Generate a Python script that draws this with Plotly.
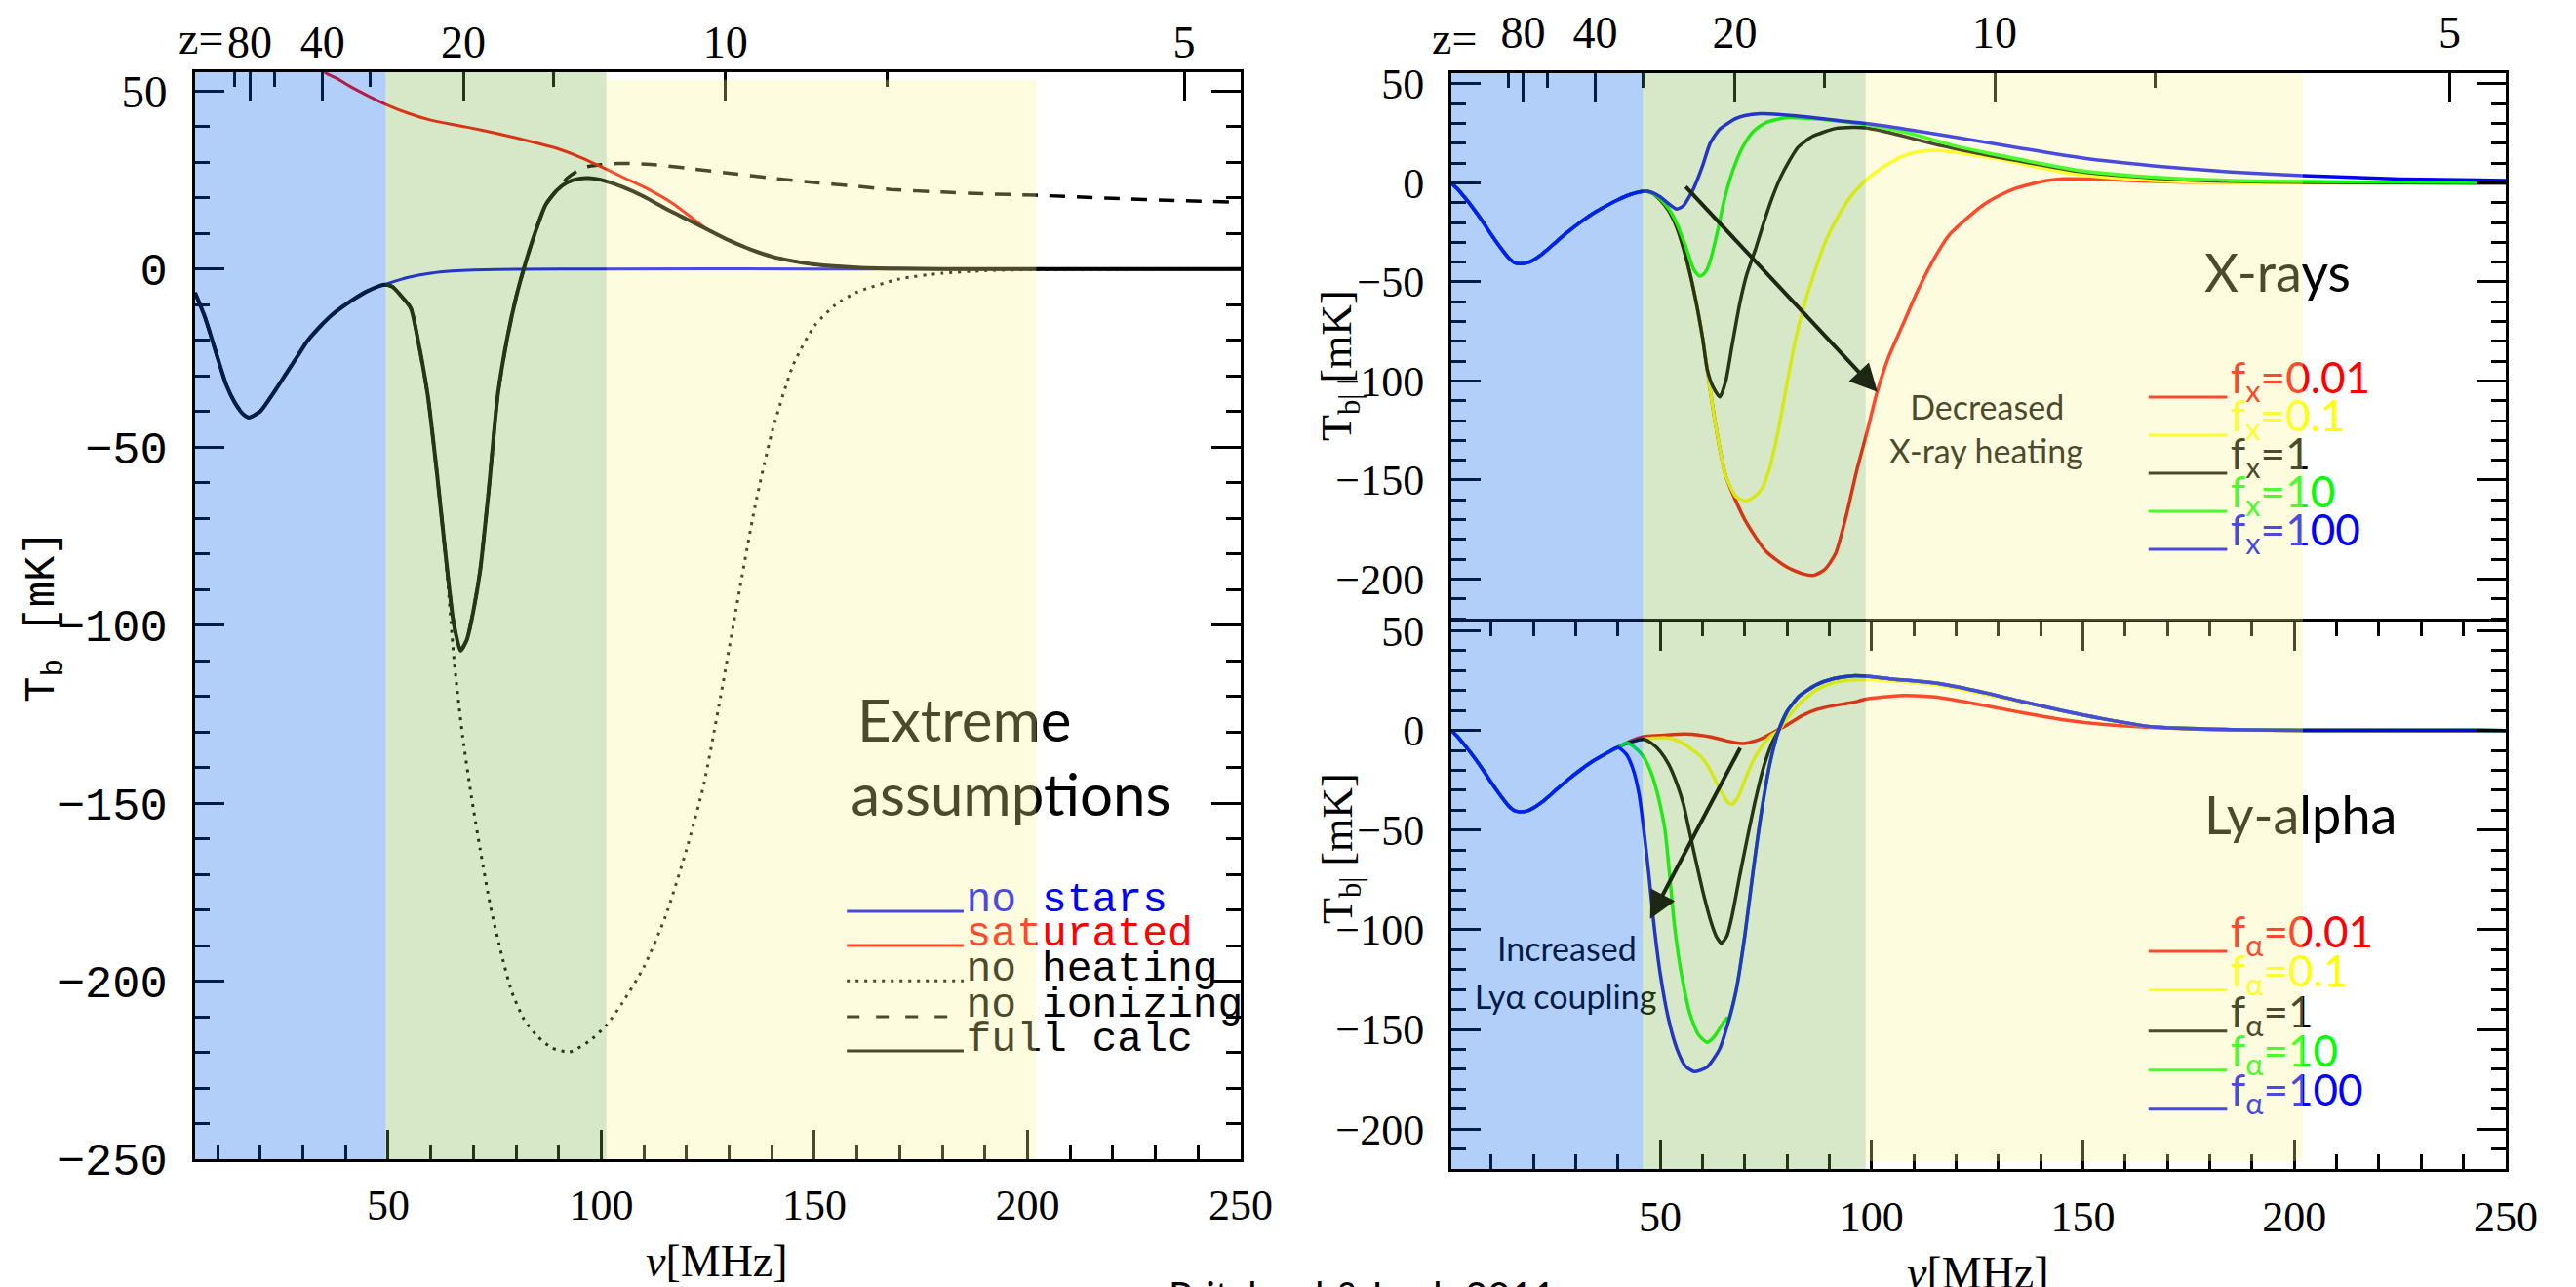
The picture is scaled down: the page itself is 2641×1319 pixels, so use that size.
import plotly.graph_objects as go

# ======================= DATA =======================
# ---- Left panel: "Extreme assumptions" (nu [MHz], T_b [mK]) ----
nu_L_common = [4.7, 7, 10, 12, 14, 16, 17.3, 20, 23, 26, 29, 31, 34, 37, 41, 45, 49.1]
T_L_common = [-6.7, -13.5, -25, -32.5, -37.5, -40.8, -41.7, -40, -35, -29.5, -24, -20.3, -16.2, -12.7, -9.2, -6.3, -4.4]

nu_nostars_tail = [52, 55, 60, 65, 70, 80, 100, 150, 200, 250]
T_nostars_tail = [-3.3, -2.3, -1.2, -0.6, -0.3, -0.1, 0, 0, 0, 0]

nu_full_tail = [51, 53, 55.3, 57, 59.3, 61.5, 63.4, 65.3, 67, 68.5, 70, 71.6, 73.6, 75.7, 78, 80, 81.8, 84,
                86.9, 89.5, 92, 95, 97.1, 100, 105, 110, 115, 120, 125, 130, 135, 140, 145, 150, 160, 170, 180, 200, 250]
T_full_tail = [-5, -7.5, -11, -20, -35.6, -58, -79.5, -99, -107.2, -104, -96, -84.5, -62, -35.6, -19, -8, 0, 8.5,
               17.9, 22, 24.3, 25.4, 25.5, 25, 23, 20.3, 17, 14, 11, 8, 5.5, 3.5, 2.2, 1.3, 0.4, 0.1, 0, 0, 0]

nu_noheat_tail = [65.5, 67.5, 69.5, 71.6, 74, 76.7, 79, 81.8, 85, 88.5, 92.5, 97, 101.2, 105, 110, 115, 120, 124,
                  128, 132, 136, 140, 145, 150, 155, 160, 170, 180, 190, 200, 250]
T_noheat_tail = [-110.4, -131.5, -148, -163.1, -179, -193, -203, -210.6, -215.5, -218.8, -219.9, -217, -212.4, -206,
                 -196, -182, -163, -145, -120, -93, -67, -46, -27, -16, -10, -6.5, -2.8, -1.2, -0.5, -0.2, 0]

nu_noion_tail = [92, 95, 97, 100, 104, 108, 115, 122, 130, 140, 150, 160, 168, 180, 190, 202, 220, 235, 250]
T_noion_tail = [25.5, 28, 28.8, 29.3, 29.6, 29.6, 29, 28, 26.9, 25.5, 24.3, 23.2, 22.3, 21.6, 21.1, 20.7, 19.8, 19.2, 18.7]

nu_sat = [34.5, 35.4, 38, 41, 45, 49.5, 55, 60, 65, 68.6, 75, 80, 85, 89.7, 95, 100.7, 105, 111, 117, 122.4,
          125, 130, 135, 140, 145, 150, 160, 170, 180, 200, 250]
T_sat = [56, 55, 53.5, 51.3, 48.8, 46.2, 43.6, 41.8, 40.6, 39.8, 38.2, 36.8, 35.3, 33.8, 31.4, 28.3, 25.8, 22.4, 18.2, 13.3,
         11, 8, 5.5, 3.5, 2.2, 1.3, 0.4, 0.1, 0, 0, 0]

# ---- Right panels: shared early part ----
nu_R_common = [0.6, 2, 4, 6, 8, 10, 12, 14, 15.5, 17, 19, 22, 25, 28, 31, 34, 37, 40]
T_R_common = [0, -3, -8, -13.5, -19.5, -26, -32, -37.5, -40.2, -40.8, -40, -36, -30.5, -25, -20, -15.5, -11.8, -8.5]

# ---- Top-right: X-ray heating efficiency f_X ----
nu_X_pre = [43, 46.5]
T_X_pre = [-5.8, -4.2]
nu_X_desc = [48, 50, 52, 54, 56, 58, 60, 61.1]
T_X_desc = [-5, -8.5, -14, -23, -37, -55, -78, -94]

nu_fx100 = [48, 50, 52, 53.9, 55.5, 57, 57.9, 60, 61.8, 64, 67.8, 70, 73.7, 78, 85, 92, 98.6, 110, 120, 135, 150,
            166.6, 185, 202, 225, 250]
T_fx100 = [-4.8, -7, -10.5, -13.2, -11.5, -6.5, -2.9, 8.5, 20, 27, 32.4, 34, 34.9, 34.6, 33.2, 31.5, 30, 26.5, 23, 17.6,
           12.5, 8.6, 5.5, 3.7, 2, 1.2]

nu_fx10 = [48, 50, 52, 54, 56, 58, 59.3, 60.3, 61.1, 62, 63, 64, 65, 66.5, 68, 69.6, 72, 75, 79.6, 85, 92, 98.6,
           110, 120, 135, 150, 166.6, 185, 202, 225, 250]
T_fx10 = [-5, -8, -13, -21, -32, -44, -47, -46, -43.5, -38, -29.5, -20, -10, 2, 11, 18.5, 26, 30.5, 32.9, 32.6, 31.3,
          29.5, 24.5, 18.5, 11.9, 6, 2.9, 1.2, 0.7, 0.3, 0.2]

nu_fx1_tail = [62.5, 64.1, 65.5, 67, 68.8, 70.5, 72.6, 74.5, 76.4, 78.5, 80.5, 82.6, 86, 91.5, 95.5, 98.6, 105, 115,
               125, 135, 150, 166.6, 185, 202, 225, 250]
T_fx1_tail = [-103, -108, -100, -82, -61, -46, -33, -20, -8, 3, 11, 18, 23.5, 27.5, 28, 27.8, 25, 19.5, 15, 11, 5.5,
              2.5, 0.8, 0.3, 0.1, 0]

nu_fx01_tail = [63, 65.5, 68, 70.3, 72.5, 74.1, 76, 78, 80, 81.9, 84, 86.5, 89, 91.9, 95, 98.1, 102, 107.3, 111,
                115, 120, 125, 130.4, 138, 145.8, 153, 161, 168, 176.6, 190, 250]
T_fx01_tail = [-121, -148, -158.5, -160.6, -158, -154, -143, -124, -101, -80, -62, -45, -30, -17.6, -7, 0.4, 7, 13.5,
               15.7, 16.5, 15.5, 13.8, 11.9, 8.5, 5.3, 3.3, 2, 1.1, 0.4, 0.1, 0]

nu_fx001_tail = [63, 65.5, 70, 75, 80, 84, 86.5, 89, 91.5, 94, 96.5, 99, 101.2, 104, 107.3, 111, 115, 118.5, 122.7,
                 126.5, 130.4, 134, 138.1, 142, 145.8, 153, 161, 168, 176.6, 190, 250]
T_fx001_tail = [-121, -148, -170, -186, -194, -197.5, -198, -195, -187, -168, -145, -125, -106.3, -88, -72, -54,
                -37.4, -26, -17.6, -11, -6.2, -2.8, -0.4, 1.3, 2.1, 1.9, 1.2, 0.7, 0.4, 0.1, 0]

# ---- Bottom-right: Ly-alpha efficiency f_alpha ----
nu_fa100_tail = [42, 43.5, 45, 46.1, 47.3, 48.4, 50, 51.9, 54, 56, 58, 61, 64, 66, 68, 70, 72, 74, 76, 78, 80, 83,
                 87, 91, 95.5, 100, 105, 115.1, 125, 134.9, 145, 154.7, 166.6, 185, 202, 250]
T_fa100_tail = [-12, -19, -32, -49.6, -72, -95.2, -122, -144.2, -160, -168.5, -171.1, -169, -160, -147, -130, -103,
                -70, -40, -16, 0, 9.5, 17.5, 23, 26, 27.4, 27, 25.8, 23.8, 19.8, 14.9, 10, 5.9, 1.8, 0.5, 0.1, 0]

nu_fa10_head = [42.1, 44, 46, 48, 49.5, 51.1, 52.2, 53.4, 55, 57, 59, 61.1, 63, 65.7]
T_fa10_head = [-6.3, -8.5, -13, -22, -33, -49.6, -72, -98.5, -122, -142, -152.5, -156.4, -153, -144.2]

nu_fa1_head = [42, 44, 46.1, 48, 50, 52, 54, 55.5, 56.8, 58.5, 60, 62, 63.3, 64.5, 65.8, 67, 68.7, 70.5, 72.5,
               74.5, 76.5]
T_fa1_head = [-6.5, -5.2, -4.5, -6.5, -10.5, -17, -27, -37, -49.6, -66, -80, -96, -103.5, -106.7, -103, -93, -74,
              -55, -35, -18, -6]

nu_fa01_tail = [42, 44, 46, 48.5, 51, 53, 55, 57.5, 59.9, 62, 64, 66, 67, 68.5, 70, 72, 74, 76, 78, 80, 83, 87, 91,
                95.5, 100, 105, 115, 125, 135, 145, 154.7, 166.6, 185, 202, 250]
T_fa01_tail = [-6.5, -5.2, -4.4, -3.9, -3.6, -4.2, -6, -9.5, -13.7, -20.5, -29, -36, -37, -33, -25, -15, -8, -3, 0,
               6, 13.5, 20.5, 24, 25.4, 25.5, 24.8, 23, 19, 14.5, 9.8, 5.7, 1.8, 0.5, 0.1, 0]

nu_fa001_tail = [43, 46.1, 50, 53, 55.9, 59, 62, 65, 67.5, 69.7, 72, 74, 75.6, 78, 80, 83.6, 87, 91, 95.5, 98.6,
                 107.3, 115, 125, 135, 145, 155, 166.6, 180, 200, 250]
T_fa001_tail = [-5.2, -3.1, -2.5, -2, -1.8, -2.2, -3.2, -4.8, -6, -6.5, -5.5, -4, -2.3, 0.5, 2.8, 7.5, 10.5, 12.5,
                14, 15.7, 17.6, 16.8, 13.2, 9.2, 5.5, 3, 1.5, 0.5, 0.1, 0]

# ---- Labels / ticks ----
z_major = [80, 40, 20, 10, 5]
z_minor = [100, 60, 30, 15, 7.5]
left_legend = ["no stars", "saturated", "no heating", "no ionizing", "full calc"]
left_colors = ["#0000ff", "#ff0000", "#000000", "#000000", "#000000"]
left_dash = ["solid", "solid", "3px,6px", "13px,17px", "solid"]
fx_labels = ["0.01", "0.1", "1", "10", "100"]
f_colors = ["#ff0000", "#ffff00", "#000000", "#00ff00", "#0000ff"]
shade_colors = ["rgb(0,95,238)", "rgb(118,178,68)", "rgb(248,245,145)"]
left_bands = [4.7, 49.4, 101.2, 202]
right_bands = [0.6, 45.9, 98.6, 202]

# ======================= FIGURE =======================
W, H = 2641, 1319
NU21 = 1420.4


def cat(*parts):
    out = []
    for p in parts:
        out += list(p)
    return out


def upto(nu, T, lim):
    return [n for n in nu if n <= lim], [t for n, t in zip(nu, T) if n <= lim]


def after(nu, T, lim):
    return [n for n in nu if n > lim], [t for n, t in zip(nu, T) if n > lim]


fig = go.Figure()


def line(x, y, color, width, xa, ya, dash="solid"):
    fig.add_trace(go.Scatter(x=x, y=y, mode="lines", xaxis=xa, yaxis=ya, hoverinfo="skip",
                             line=dict(color=color, width=width, dash=dash, shape="spline", smoothing=0.6)))


# ---- left panel curves ----
fu_x, fu_y = upto(nu_full_tail, T_full_tail, 63.4)
fi_x, fi_y = upto(nu_full_tail, T_full_tail, 89.5)
line(cat(nu_L_common, nu_nostars_tail), cat(T_L_common, T_nostars_tail), "#0000ff", 3, "x", "y")
line(cat(nu_L_common, fu_x, nu_noheat_tail), cat(T_L_common, fu_y, T_noheat_tail), "#000000", 3, "x", "y", "3px,6px")
line(cat(nu_L_common, fi_x, nu_noion_tail), cat(T_L_common, fi_y, T_noion_tail), "#000000", 3.5, "x", "y", "16px,12px")
line(nu_sat, T_sat, "#ff0000", 3, "x", "y")
line(cat(nu_L_common, nu_full_tail), cat(T_L_common, T_full_tail), "#000000", 4, "x", "y")

# ---- top-right curves (order: red, yellow, black, green, blue) ----
base_x = cat(nu_R_common, nu_X_pre, nu_X_desc)
base_y = cat(T_R_common, T_X_pre, T_X_desc)
line(cat(base_x, nu_fx001_tail), cat(base_y, T_fx001_tail), f_colors[0], 3.5, "x2", "y2")
line(cat(base_x, nu_fx01_tail), cat(base_y, T_fx01_tail), f_colors[1], 3.5, "x2", "y2")
line(cat(base_x, nu_fx1_tail), cat(base_y, T_fx1_tail), f_colors[2], 3.5, "x2", "y2")
line(cat(nu_R_common, nu_X_pre, nu_fx10), cat(T_R_common, T_X_pre, T_fx10), f_colors[3], 3.5, "x2", "y2")
line(cat(nu_R_common, nu_X_pre, nu_fx100), cat(T_R_common, T_X_pre, T_fx100), f_colors[4], 3.5, "x2", "y2")

# ---- bottom-right curves ----
b_after_x, b_after_y = after(nu_fa100_tail, T_fa100_tail, 65.7)
b_after80_x, b_after80_y = after(nu_fa100_tail, T_fa100_tail, 77)
line(cat(nu_R_common, nu_fa001_tail), cat(T_R_common, T_fa001_tail), f_colors[0], 3.5, "x3", "y3")
line(cat(nu_R_common, nu_fa01_tail), cat(T_R_common, T_fa01_tail), f_colors[1], 3.5, "x3", "y3")
line(cat(nu_R_common, nu_fa1_head, b_after80_x), cat(T_R_common, T_fa1_head, b_after80_y), f_colors[2], 3.5, "x3", "y3")
line(cat(nu_R_common, nu_fa10_head, b_after_x), cat(T_R_common, T_fa10_head, b_after_y), f_colors[3], 3.5, "x3", "y3")
line(cat(nu_R_common, nu_fa100_tail), cat(T_R_common, T_fa100_tail), f_colors[4], 3.5, "x3", "y3")

# empty traces so the z (redshift) axes exist
fig.add_trace(go.Scatter(x=[None], y=[None], xaxis="x4", yaxis="y", hoverinfo="skip"))
fig.add_trace(go.Scatter(x=[None], y=[None], xaxis="x5", yaxis="y2", hoverinfo="skip"))


def text(xa, ya, xs, ys, texts, family, size, colors, pos):
    fig.add_trace(go.Scatter(x=xs, y=ys, text=texts, mode="text", xaxis=xa, yaxis=ya, hoverinfo="skip",
                             textposition=pos, cliponaxis=False,
                             textfont=dict(family=family, size=size, color=colors)))


# ---- text (drawn under the shading so it is tinted like the reference) ----
text("x", "y", [160.1, 158.5], [-128.7, -149.3], ["Extreme", "assumptions"], "Lato", 60, ["#000", "#000"], "middle right")
L_text = [-177.4, -187.0, -196.9, -207.0, -216.6]
text("x", "y", [185.6] * 5, L_text, left_legend, "Liberation Mono", 43, left_colors, "middle right")

RT_text = [-100.8, -120.0, -139.2, -158.4, -177.6]
text("x2", "y2", [184.9] * 5, RT_text,
     ["f<sub>x</sub>=" + v for v in fx_labels], "Lato", 44, f_colors, "middle right")
text("x2", "y2", [178.7], [-48.5], ["X-rays"], "Lato", 54, ["#000"], "middle right")
text("x2", "y2", [127.3, 127.1], [-115.5, -137.7], ["Decreased", "X-ray heating"], "Lato", 34, ["#000", "#000"], "middle center")

RB_text = [-103.5, -123.0, -143.5, -163.1, -182.7]
text("x3", "y3", [184.9] * 5, RB_text,
     ["f<sub>α</sub>=" + v for v in fx_labels], "Lato", 44, f_colors, "middle right")
text("x3", "y3", [178.7], [-45.7], ["Ly-alpha"], "Lato", 54, ["#000"], "middle right")
text("x3", "y3", [27.9, 27.6], [-111.3, -135.4], ["Increased", "Lyα coupling"], "Lato", 34, ["#000", "#000"], "middle center")

# ---- shapes: legend keys + shaded epochs ----
shapes = []
for t, c, d in zip(L_text, left_colors, left_dash):
    shapes.append(dict(type="line", xref="x", yref="y", x0=157.6, x1=185.0, y0=t - 3.0, y1=t - 3.0, layer="between",
                       line=dict(color=c, width=3, dash=d)))
for t, c in zip(RT_text, f_colors):
    shapes.append(dict(type="line", xref="x2", yref="y2", x0=165.5, x1=184.1, y0=t - 7.4, y1=t - 7.4,
                       layer="between", line=dict(color=c, width=3)))
for t, c in zip(RB_text, f_colors):
    shapes.append(dict(type="line", xref="x3", yref="y3", x0=165.5, x1=184.1, y0=t - 7.3, y1=t - 7.3,
                       layer="between", line=dict(color=c, width=3)))

L_YR = [-250, 55.25]
RT_YR = [-221.3, 55.4]
RB_YR = [-220.1, 54.8]
for i, c in enumerate(shade_colors):
    top = 53.1 if i == 2 else L_YR[1]
    shapes.append(dict(type="rect", xref="x", yref="y", x0=left_bands[i], x1=left_bands[i + 1], y0=L_YR[0], y1=top,
                       fillcolor=c, opacity=0.3, line=dict(width=0), layer="above"))
    shapes.append(dict(type="rect", xref="x2", yref="y2", x0=right_bands[i], x1=right_bands[i + 1], y0=RT_YR[0],
                       y1=RT_YR[1], fillcolor=c, opacity=0.3, line=dict(width=0), layer="above"))
    shapes.append(dict(type="rect", xref="x3", yref="y3", x0=right_bands[i], x1=right_bands[i + 1],
                       y0=-216 if i == 2 else RB_YR[0], y1=RB_YR[1], fillcolor=c, opacity=0.3,
                       line=dict(width=0), layer="above"))

# ---- axes ----
xL = [200 / W, 1272 / W]
yL = [1 - 1188 / H, 1 - 74 / H]
xR = [1488 / W, 2569 / W]
yRT = [1 - 636.7 / H, 1 - 75 / H]
yRB = [1 - 1198.3 / H, 1 - 636.7 / H]

SERIF = dict(family="Liberation Serif", size=44, color="black")
MONO = dict(family="Liberation Mono", size=47, color="black")
base = dict(showgrid=False, zeroline=False, showline=True, linecolor="black", linewidth=3, automargin=False)
ticks = dict(ticks="inside", ticklen=30, tickwidth=2.5, tickcolor="black",
             minor=dict(ticks="inside", ticklen=15, tickwidth=2.5, tickcolor="black", tick0=0, dtick=10))

z_nu_major = [NU21 / (1 + z) for z in z_major]
z_nu_minor = [NU21 / (1 + z) for z in z_minor]
zaxis = dict(side="top", showgrid=False, zeroline=False, automargin=False, tickmode="array",
             tickvals=z_nu_major, ticktext=[str(z) for z in z_major], ticks="inside", ticklen=30, tickwidth=2.5,
             tickcolor="black", tickfont=dict(family="Liberation Serif", size=46, color="black"),
             ticklabelstandoff=5,
             minor=dict(tickmode="array", tickvals=z_nu_minor, ticks="inside", ticklen=15, tickwidth=2.5,
                        tickcolor="black"))

yl_vals = [-250, -200, -150, -100, -50, 0, 50]
yl_text = ["−250", "−200", "−150", "−100", "−50", "0",
           '<span style="font-family:Liberation Serif">50</span>']

fig.update_layout(
    width=W, height=H, margin=dict(l=0, r=0, t=0, b=0, pad=0, autoexpand=False), showlegend=False,
    paper_bgcolor="white", plot_bgcolor="white",
    xaxis=dict(domain=xL, range=[4.7, 250], anchor="y", mirror=True, tickmode="linear", tick0=0, dtick=50,
               tickfont=SERIF, ticklabelstandoff=6, **base, **ticks),
    yaxis=dict(domain=yL, range=L_YR, anchor="x", mirror="ticks", tickmode="array", tickvals=yl_vals,
               ticktext=yl_text, tickfont=MONO, ticklabelstandoff=16, **base, **ticks),
    xaxis4=dict(overlaying="x", anchor="y", range=[4.7, 250], showline=False, **zaxis),
    xaxis2=dict(domain=xR, range=[0.6, 250], anchor="y2", showticklabels=False, ticks="",
                showgrid=False, zeroline=False, showline=False, automargin=False),
    yaxis2=dict(domain=yRT, range=RT_YR, anchor="x2", mirror="ticks", tickmode="linear", tick0=0, dtick=50,
                tickfont=SERIF, ticklabelstandoff=16, **base, **ticks),
    xaxis5=dict(overlaying="x2", anchor="y2", range=[0.6, 250], showline=True, linecolor="black", linewidth=3,
                **zaxis),
    xaxis3=dict(domain=xR, range=[0.6, 250], anchor="y3", mirror="ticks", tickmode="linear", tick0=0, dtick=50,
                tickfont=SERIF, ticklabelstandoff=8, **base, **ticks),
    yaxis3=dict(domain=yRB, range=RB_YR, anchor="x3", mirror="ticks", tickmode="linear", tick0=0, dtick=50,
                tickfont=SERIF, ticklabelstandoff=16, **base, **ticks),
    shapes=shapes,
)

ann = []
ann.append(dict(xref="paper", yref="paper", x=231 / W, y=1 - 40 / H, xanchor="right", yanchor="middle",
                text="z=", showarrow=False, font=dict(family="Liberation Serif", size=46, color="black")))
ann.append(dict(xref="paper", yref="paper", x=1516 / W, y=1 - 40 / H, xanchor="right", yanchor="middle",
                text="z=", showarrow=False, font=dict(family="Liberation Serif", size=46, color="black")))
ann.append(dict(xref="paper", yref="paper", x=735 / W, y=1 - 1292 / H, xanchor="center", yanchor="middle",
                text="<i>ν</i>[MHz]", showarrow=False, font=dict(family="Liberation Serif", size=46, color="black")))
ann.append(dict(xref="paper", yref="paper", x=2028 / W, y=1 - 1304 / H, xanchor="center", yanchor="middle",
                text="<i>ν</i>[MHz]", showarrow=False, font=dict(family="Liberation Serif", size=46, color="black")))
ann.append(dict(xref="paper", yref="paper", x=46 / W, y=1 - 632 / H, xanchor="center", yanchor="middle",
                textangle=-90, text="T<sub>b</sub> [mK]", showarrow=False,
                font=dict(family="Liberation Mono", size=44, color="black")))
ann.append(dict(xref="paper", yref="paper", x=1374 / W, y=1 - 375 / H, xanchor="center", yanchor="middle",
                textangle=-90, text="T<sub>b|</sub> [mK]", showarrow=False,
                font=dict(family="Liberation Serif", size=44, color="black")))
ann.append(dict(xref="paper", yref="paper", x=1374 / W, y=1 - 870 / H, xanchor="center", yanchor="middle",
                textangle=-90, text="T<sub>b|</sub> [mK]", showarrow=False,
                font=dict(family="Liberation Serif", size=44, color="black")))
ann.append(dict(xref="paper", yref="paper", x=1396 / W, y=1 - 1302 / H, xanchor="center", yanchor="top",
                text="Pritchard &amp; Loeb 2011", showarrow=False, font=dict(family="Lato", size=40, color="black")))
# arrows
ann.append(dict(xref="x2", yref="y2", axref="x2", ayref="y2", x=101.4, y=-105.5, ax=55.7, ay=-1.2, text="",
                showarrow=True, arrowhead=2, arrowsize=1.4, arrowwidth=4, arrowcolor="#1c2814", standoff=0))
ann.append(dict(xref="x3", yref="y3", axref="x3", ayref="y3", x=47.6, y=-94.5, ax=69.1, ay=-8, text="",
                showarrow=True, arrowhead=2, arrowsize=1.4, arrowwidth=4, arrowcolor="#1c2814", standoff=0))
fig.update_layout(annotations=ann)

fig.write_html("out.html")
